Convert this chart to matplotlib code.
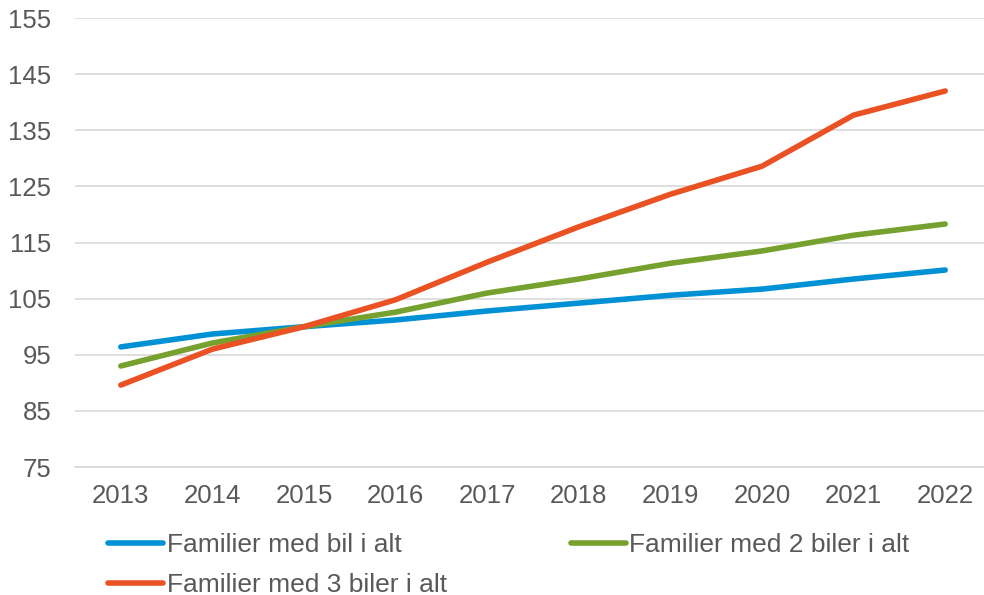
import numpy as np
import matplotlib.pyplot as plt

plt.rcParams['font.family'] = ['Liberation Sans', 'DejaVu Sans']

years = [2013, 2014, 2015, 2016, 2017, 2018, 2019, 2020, 2021, 2022]
bil_i_alt = [96.4, 98.7, 100.0, 101.2, 102.8, 104.2, 105.6, 106.7, 108.5, 110.1]
to_biler = [93.0, 97.1, 100.0, 102.6, 106.0, 108.5, 111.3, 113.5, 116.3, 118.3]
tre_biler = [89.6, 96.0, 100.0, 104.8, 111.5, 117.8, 123.6, 128.6, 137.7, 142.0]

labels = ['Familier med bil i alt', 'Familier med 2 biler i alt', 'Familier med 3 biler i alt']
colors = ['#0091D5', '#76A12E', '#EA5123']
txt = '#595959'

fig = plt.figure(figsize=(9.84, 5.95), dpi=100)
ax = fig.add_axes([75 / 984, 0.2151, 916 / 984, 0.7546])

lines = []
for vals, lab, col in zip([bil_i_alt, to_biler, tre_biler], labels, colors):
    l, = ax.plot(years, vals, color=col, lw=4, label=lab, solid_capstyle='round')
    lines.append(l)

ax.set_xlim(2012.5, 2022.5)
ax.set_ylim(75, 155)
ax.set_yticks(np.arange(75, 156, 10))
ax.set_xticks(years)
ax.grid(axis='y', color='#D9D9D9', lw=1.2)
ax.set_axisbelow(True)
for s in ax.spines.values():
    s.set_visible(False)
ax.spines['bottom'].set_visible(True)
ax.spines['bottom'].set_color('#D9D9D9')
ax.spines['bottom'].set_linewidth(1.2)
ax.tick_params(length=0, labelsize=18.5, colors=txt)
ax.tick_params(axis='x', pad=12)
ax.tick_params(axis='y', pad=17)

# rækkefølge så bil i alt og 2 biler står på første række
order = [0, 2, 1]
fig.legend([lines[i] for i in order], [labels[i] for i in order],
           loc='upper left', bbox_to_anchor=(108 / 984, 1 - 533 / 595), ncol=2,
           frameon=False, fontsize=19, handlelength=2.1, handletextpad=0.12,
           columnspacing=4.7, labelspacing=0.6, borderpad=0, borderaxespad=0,
           labelcolor=txt)

fig.savefig('out.png', dpi=100)
